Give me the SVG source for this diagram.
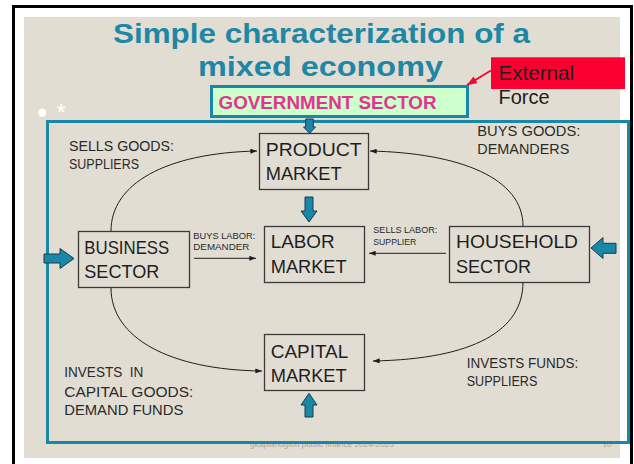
<svg xmlns="http://www.w3.org/2000/svg" width="634" height="464" viewBox="0 0 634 464">
<defs>
<style>
.title{font-family:"Liberation Sans",Arial,sans-serif;font-weight:bold;font-size:27px;fill:#1d87a5}
.node{fill:none;stroke:#3a3a3a;stroke-width:1.3}
.nt{font-family:"Liberation Sans",Arial,sans-serif;font-size:19px;fill:#1e1e1e}
.lab{font-family:"Liberation Sans",Arial,sans-serif;font-size:14px;fill:#2a2a2a}
.sm{font-family:"Liberation Sans",Arial,sans-serif;font-size:9px;fill:#2a2a2a}
.conn{fill:none;stroke:#1e1e1e;stroke-width:1}
.big{fill:#1b87a6;stroke:#123f4f;stroke-width:1}
</style>
<marker id="ah" viewBox="0 0 8 6" refX="8" refY="3" markerWidth="7" markerHeight="5" markerUnits="userSpaceOnUse" orient="auto">
<path d="M0,0 L8,3 L0,6 Z" fill="#1e1e1e"/>
</marker>
<marker id="rah" viewBox="0 0 10 8" refX="10" refY="4" markerWidth="10" markerHeight="8" markerUnits="userSpaceOnUse" orient="auto">
<path d="M0,0 L10,4 L0,8 Z" fill="#ee0a2e"/>
</marker>
</defs>
<rect x="0" y="0" width="634" height="464" fill="#ffffff"/>
<rect x="13.5" y="6.5" width="618" height="470" fill="#ffffff" stroke="#000" stroke-width="3"/>
<rect x="24" y="17" width="596" height="441" fill="#e2ddd3"/>

<text class="title" x="113" y="43" textLength="417" lengthAdjust="spacingAndGlyphs">Simple characterization of a</text>
<text class="title" x="198" y="76" textLength="245" lengthAdjust="spacingAndGlyphs">mixed economy</text>

<circle cx="42.3" cy="112.7" r="4" fill="#ffffff"/>
<text x="56.5" y="121" font-family="Liberation Sans, Arial, sans-serif" font-size="24" fill="#ffffff">*</text>

<text x="250" y="446.5" font-family="Liberation Sans, Arial, sans-serif" font-size="8" fill="#aaa59c" textLength="144" lengthAdjust="spacingAndGlyphs">gkaplanoglou public finance 2024-2025</text>
<text x="602.5" y="446.5" font-family="Liberation Sans, Arial, sans-serif" font-size="8" fill="#aaa59c">10</text>

<rect x="47.5" y="121.5" width="581" height="321" fill="none" stroke="#1b87a6" stroke-width="3"/>

<g id="government">
<rect x="211.5" y="86.5" width="256" height="30" fill="#ccffcc" stroke="#1b87a6" stroke-width="3"/>
<text x="218.5" y="108.5" font-family="Liberation Sans, Arial, sans-serif" font-weight="bold" font-size="19" fill="#e0368e" textLength="218" lengthAdjust="spacingAndGlyphs">GOVERNMENT SECTOR</text>
</g>

<g id="external">
<rect x="491" y="57.3" width="134" height="31.7" fill="#fa0030"/>
<text x="498.5" y="80" font-family="Liberation Sans, Arial, sans-serif" font-size="20" fill="#1e1e1e" textLength="75.5" lengthAdjust="spacingAndGlyphs">External</text>
<text x="498.5" y="104" font-family="Liberation Sans, Arial, sans-serif" font-size="20" fill="#1e1e1e">Force</text>
</g>

<g id="product">
<rect class="node" x="259.5" y="133.5" width="109" height="56"/>
<text class="nt" x="265.7" y="156" textLength="96" lengthAdjust="spacingAndGlyphs">PRODUCT</text>
<text class="nt" x="265.7" y="180" textLength="76" lengthAdjust="spacingAndGlyphs">MARKET</text>
</g>

<g id="labor">
<rect class="node" x="264.5" y="226.5" width="100" height="56"/>
<text class="nt" x="270.7" y="248.3" textLength="64" lengthAdjust="spacingAndGlyphs">LABOR</text>
<text class="nt" x="270.7" y="273.3" textLength="76" lengthAdjust="spacingAndGlyphs">MARKET</text>
</g>

<g id="business">
<rect class="node" x="78.5" y="231.5" width="111" height="56"/>
<text class="nt" x="84.3" y="254" textLength="85" lengthAdjust="spacingAndGlyphs">BUSINESS</text>
<text class="nt" x="84.3" y="278.3" textLength="75" lengthAdjust="spacingAndGlyphs">SECTOR</text>
</g>

<g id="household">
<rect class="node" x="449.5" y="226.5" width="140" height="56"/>
<text class="nt" x="456" y="248.3" textLength="122" lengthAdjust="spacingAndGlyphs">HOUSEHOLD</text>
<text class="nt" x="456" y="273.3" textLength="75" lengthAdjust="spacingAndGlyphs">SECTOR</text>
</g>

<g id="capital">
<rect class="node" x="264.5" y="334.5" width="100" height="56"/>
<text class="nt" x="270.7" y="358.3" textLength="77.6" lengthAdjust="spacingAndGlyphs">CAPITAL</text>
<text class="nt" x="270.7" y="381.7" textLength="76" lengthAdjust="spacingAndGlyphs">MARKET</text>
</g>

<g id="connectors">
<path d="M491,70.5 L467,85" fill="none" stroke="#ee0a2e" stroke-width="2" marker-end="url(#rah)"/>
<path class="conn" d="M111,231 C111,184 165,153 257,151" marker-end="url(#ah)"/>
<path class="conn" d="M523,226 C523,178 460,153 370,151" marker-end="url(#ah)"/>
<path class="conn" d="M111,288 C111,338 170,370 262,371" marker-end="url(#ah)"/>
<path class="conn" d="M523,282 C523,330 475,359 373,361" marker-end="url(#ah)"/>
<path class="conn" d="M194,258.3 L256,258.3" marker-end="url(#ah)"/>
<path class="conn" d="M446,253.3 L369,253.3" marker-end="url(#ah)"/>
<polygon class="big" points="305.7,119 313.3,119 313.3,127 315.5,127 309.5,133.3 303.5,127 305.7,127"/>
<polygon class="big" points="305,197 313,197 313,211 317,211 309,222 301,211 305,211"/>
<polygon class="big" points="309,393.3 317,405 313,405 313,417 305,417 305,405 301,405"/>
<polygon class="big" points="44,254 60,254 60,248.5 74,258.5 60,268.5 60,263 44,263"/>
<polygon class="big" points="591,248 603,237.5 603,243.3 616,243.3 616,253.3 603,253.3 603,258.5"/>
</g>

<g id="labels">
<text class="lab" x="69" y="150.7" textLength="105" lengthAdjust="spacingAndGlyphs">SELLS GOODS:</text>
<text class="lab" x="69" y="169.3" textLength="70" lengthAdjust="spacingAndGlyphs">SUPPLIERS</text>
<text class="lab" x="477.3" y="136" textLength="103" lengthAdjust="spacingAndGlyphs">BUYS GOODS:</text>
<text class="lab" x="477.3" y="154" textLength="92" lengthAdjust="spacingAndGlyphs">DEMANDERS</text>
<text class="sm" x="193.3" y="239" textLength="62" lengthAdjust="spacingAndGlyphs">BUYS LABOR:</text>
<text class="sm" x="193.3" y="250" textLength="56" lengthAdjust="spacingAndGlyphs">DEMANDER</text>
<text class="sm" x="373.3" y="233.3" textLength="64" lengthAdjust="spacingAndGlyphs">SELLS LABOR:</text>
<text class="sm" x="373.3" y="245" textLength="43" lengthAdjust="spacingAndGlyphs">SUPPLIER</text>
<text class="lab" x="64.3" y="377.3" textLength="79" lengthAdjust="spacingAndGlyphs" xml:space="preserve">INVESTS  IN</text>
<text class="lab" x="64.3" y="396.7" textLength="129" lengthAdjust="spacingAndGlyphs">CAPITAL GOODS:</text>
<text class="lab" x="64.3" y="415" textLength="119" lengthAdjust="spacingAndGlyphs">DEMAND FUNDS</text>
<text class="lab" x="466.7" y="368.3" textLength="111.6" lengthAdjust="spacingAndGlyphs">INVESTS FUNDS:</text>
<text class="lab" x="466.7" y="386" textLength="70.6" lengthAdjust="spacingAndGlyphs">SUPPLIERS</text>
</g>
</svg>
